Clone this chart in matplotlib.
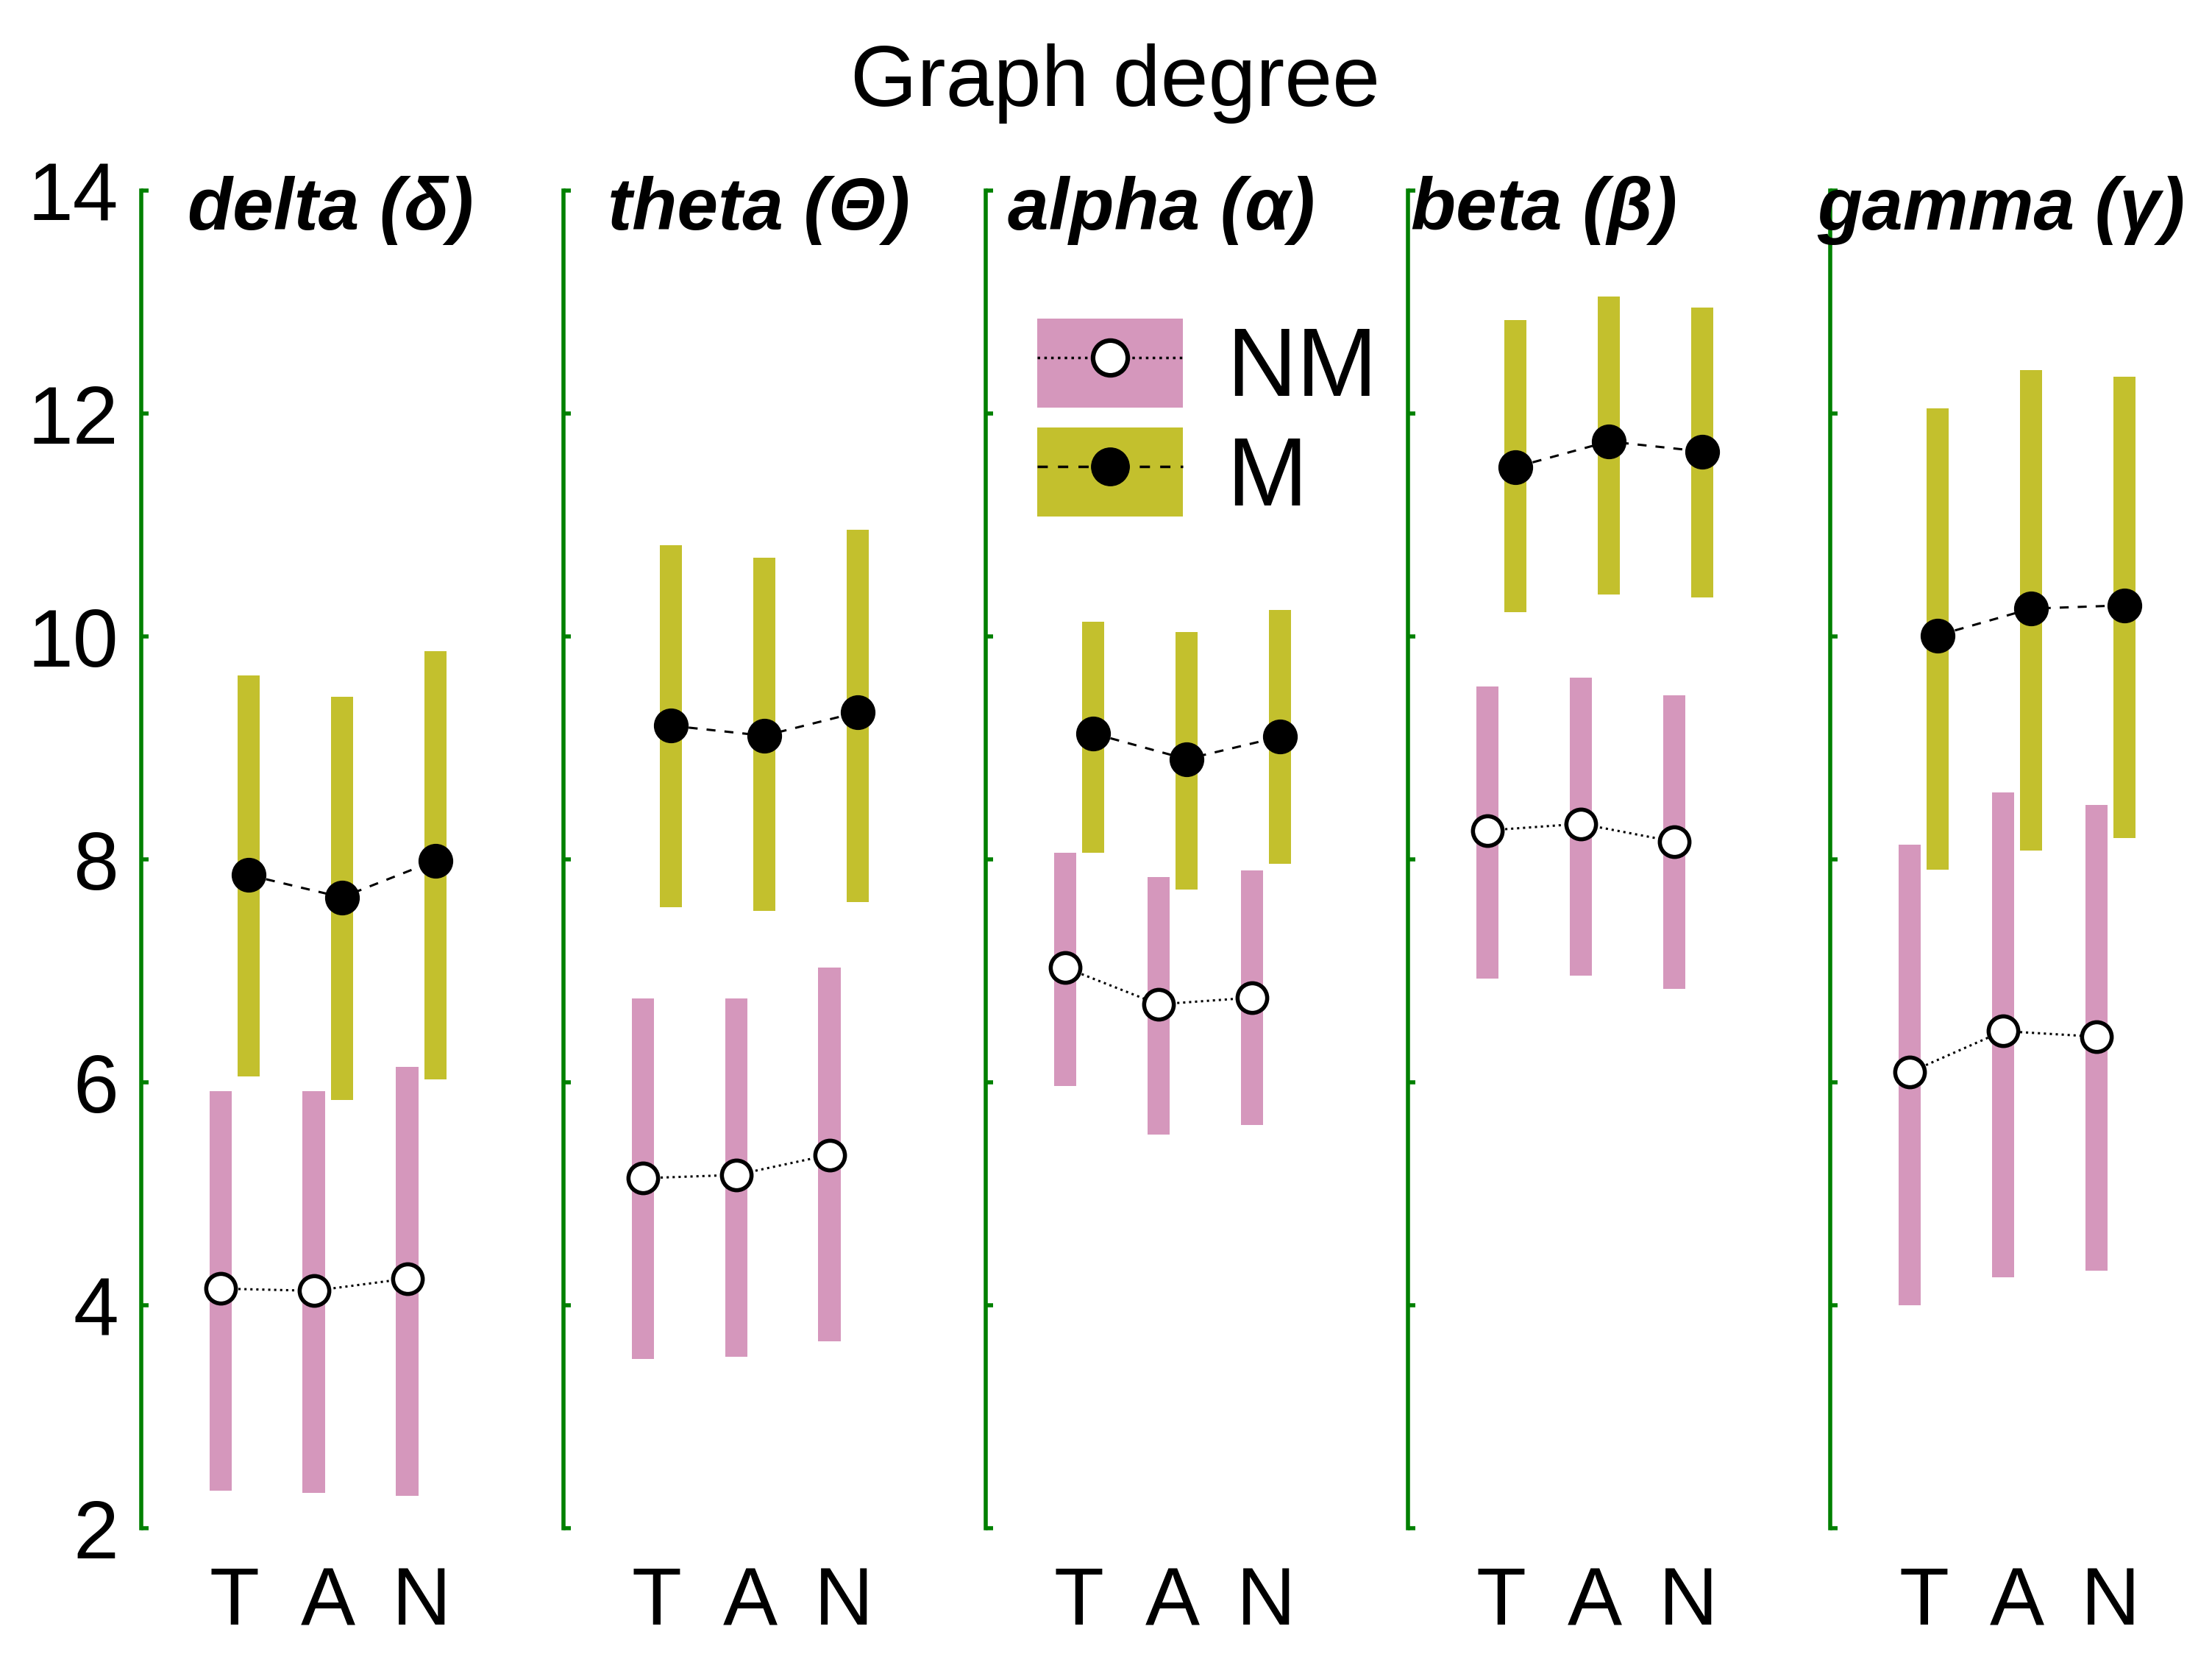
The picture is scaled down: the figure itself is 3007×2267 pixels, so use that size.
import matplotlib
matplotlib.use('Agg')
import matplotlib.pyplot as plt
from matplotlib.patches import Patch
from matplotlib.lines import Line2D
from matplotlib.legend_handler import HandlerTuple
import numpy as np

plt.rcParams['font.family'] = ['Liberation Sans', 'DejaVu Sans']

# data
band_titles = ['delta (δ)', 'theta (Θ)', 'alpha (α)', 'beta (β)', 'gamma (γ)']
conditions = ['T', 'A', 'N']

nm_mean = [[4.15, 4.13, 4.24], [5.14, 5.17, 5.35], [7.03, 6.70, 6.76],
           [8.26, 8.32, 8.16], [6.09, 6.46, 6.41]]
nm_low = [[2.34, 2.32, 2.29], [3.52, 3.54, 3.68], [5.97, 5.53, 5.62],
          [6.93, 6.96, 6.84], [4.00, 4.25, 4.31]]
nm_high = [[5.92, 5.92, 6.14], [6.75, 6.75, 7.03], [8.06, 7.84, 7.90],
           [9.55, 9.63, 9.47], [8.13, 8.60, 8.49]]

m_mean = [[7.86, 7.66, 7.99], [9.20, 9.11, 9.32], [9.13, 8.90, 9.10],
          [11.52, 11.75, 11.66], [10.01, 10.25, 10.28]]
m_low = [[6.05, 5.84, 6.03], [7.57, 7.54, 7.62], [8.06, 7.73, 7.96],
         [10.22, 10.38, 10.35], [7.91, 8.08, 8.19]]
m_high = [[9.65, 9.46, 9.87], [10.82, 10.71, 10.96], [10.13, 10.04, 10.24],
          [12.84, 13.05, 12.95], [12.05, 12.39, 12.33]]

pink = '#D597BC'
olive = '#C3C02D'
green = '#008000'

# title x offsets (data units) relative to each panel's axis line
title_offsets = [0.5, 0.47, 0.24, 0.03, -0.14]

fig = plt.figure(figsize=(30.07, 22.67), dpi=100)

x = np.arange(1, len(conditions) + 1)
shift = 0.15
bar_w = 0.24

for i in range(len(band_titles)):
    ax = fig.add_axes([0.0638 + i * 0.1909, 0.0838, 0.19, 0.8019])

    lo_nm = np.array(nm_low[i])
    hi_nm = np.array(nm_high[i])
    lo_m = np.array(m_low[i])
    hi_m = np.array(m_high[i])

    ax.bar(x - shift, hi_nm - lo_nm, bar_w, bottom=lo_nm, color=pink, zorder=1)
    ax.bar(x + shift, hi_m - lo_m, bar_w, bottom=lo_m, color=olive, zorder=1)

    ax.plot(x - shift, nm_mean[i], linestyle=':', color='black', linewidth=2.2,
            marker='o', markersize=29, markerfacecolor='white',
            markeredgecolor='black', markeredgewidth=4, zorder=3)
    ax.plot(x + shift, m_mean[i], linestyle=(0, (4, 4)), color='black', linewidth=2.2,
            marker='o', markersize=33, markerfacecolor='black',
            markeredgecolor='black', zorder=3)

    ax.set_xlim(0, 4.5)
    ax.set_ylim(2, 14)
    ax.set_yticks(range(2, 15, 2))
    ax.set_xticks(x)
    ax.set_xticklabels(conditions, fontsize=80)
    ax.tick_params(axis='x', length=0, pad=36)
    ax.tick_params(axis='y', direction='in', length=7, width=4, color=green,
                   labelsize=80, pad=22, labelleft=(i == 0))

    for side in ['top', 'right', 'bottom']:
        ax.spines[side].set_visible(False)
    ax.spines['left'].set_color(green)
    ax.spines['left'].set_linewidth(4)
    ax.patch.set_alpha(0)

    ax.text(title_offsets[i], 13.65, band_titles[i], fontsize=72,
            fontweight='bold', fontstyle='italic', ha='left', va='baseline',
            clip_on=False)

fig.text(0.504, 0.9365, 'Graph degree', fontsize=84, ha='center', va='baseline')

# legend: coloured box with line + marker drawn on top of it
nm_handle = (Patch(facecolor=pink, edgecolor='none'),
             Line2D([], [], linestyle=':', color='black', linewidth=2.5, marker='o',
                    markersize=34, markerfacecolor='white',
                    markeredgecolor='black', markeredgewidth=4.5))
m_handle = (Patch(facecolor=olive, edgecolor='none'),
            Line2D([], [], linestyle=(0, (4, 4)), color='black', linewidth=2.5,
                   marker='o', markersize=37, markerfacecolor='black'))
fig.legend([nm_handle, m_handle], ['NM', 'M'],
           handler_map={tuple: HandlerTuple(ndivide=1, pad=0)},
           loc='upper left', bbox_to_anchor=(1410 / 3007, 1 - 433 / 2267),
           fontsize=95, frameon=False, handlelength=1.5, handleheight=1.03,
           handletextpad=0.45, labelspacing=0.12, borderpad=0, borderaxespad=0)

fig.savefig('out.png', dpi=100)
plt.close()
